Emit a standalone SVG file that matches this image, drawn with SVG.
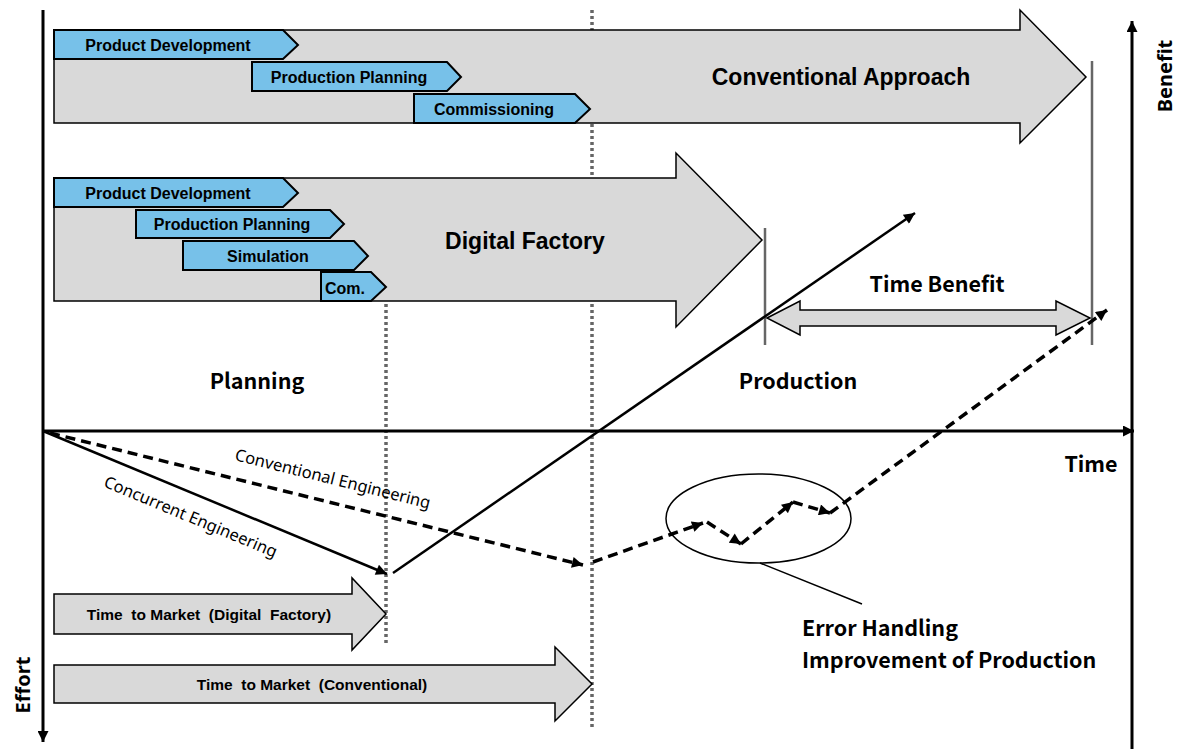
<svg xmlns="http://www.w3.org/2000/svg" width="1177" height="749" viewBox="0 0 1177 749">
  <defs>
    <marker id="head" viewBox="0 0 10 10" refX="10" refY="5" markerWidth="13" markerHeight="11" markerUnits="userSpaceOnUse" orient="auto">
      <path d="M0,0 L10,5 L0,10 Z" fill="#000"/>
    </marker>
    <marker id="axisHead" viewBox="0 0 10 10" refX="10" refY="5" markerWidth="12" markerHeight="11" markerUnits="userSpaceOnUse" orient="auto">
      <path d="M0,0 L10,5 L0,10 Z" fill="#000"/>
    </marker>
    <style>
      .gray { fill: #d9d9d9; stroke: #000; stroke-width: 1.5; stroke-linejoin: miter; }
      .blue { fill: #77c1e9; stroke: #000; stroke-width: 2; stroke-linejoin: miter; }
      .box { font-family: "Liberation Sans", Arial, sans-serif; font-weight: bold; font-size: 16px; fill: #000; text-anchor: middle; dominant-baseline: central; }
      .ttm { font-family: "Liberation Sans", Arial, sans-serif; font-weight: bold; font-size: 15.5px; fill: #000; text-anchor: middle; dominant-baseline: central; white-space: pre; }
      .big { font-family: "Liberation Sans", Arial, sans-serif; font-weight: bold; font-size: 23px; fill: #000; text-anchor: middle; dominant-baseline: central; }
      .lbl { font-family: "Noto Sans CJK KR", "Noto Sans", sans-serif; font-weight: bold; font-size: 21.5px; fill: #000; text-anchor: middle; dominant-baseline: central; }
      .side { font-family: "Noto Sans", "Open Sans", sans-serif; font-weight: bold; font-size: 20px; fill: #000; text-anchor: middle; dominant-baseline: central; }
      .slant { font-family: "Noto Sans", "Open Sans", sans-serif; font-size: 16.5px; fill: #000; text-anchor: middle; dominant-baseline: central; }
      .dots { stroke: #666; stroke-width: 3.5; stroke-dasharray: 3 3; fill: none; }
      .axis { stroke: #000; stroke-width: 3; fill: none; }
      .solid { stroke: #000; stroke-width: 2.5; fill: none; }
      .dash { stroke: #000; stroke-width: 3.5; stroke-dasharray: 10 6; fill: none; }
      .mark { stroke: #666; stroke-width: 2.5; fill: none; }
    </style>
  </defs>
  <rect width="1177" height="749" fill="#fff"/>

  <!-- phase boundaries -->
  <g id="boundaries">
    <line class="dots" x1="592" y1="10" x2="592" y2="728"/>
    <line class="dots" x1="386" y1="178" x2="386" y2="646"/>
  </g>

  <!-- conventional approach -->
  <g id="conventional-approach">
    <path class="gray" d="M54,30 H1020 V10 L1086,77 L1020,143 V123 H54 Z"/>
    <text class="big" x="841" y="77">Conventional Approach</text>
  </g>
  <g id="conv-product-development">
    <path class="blue" d="M54,30 H283 L298,45 L283,59 H54 Z"/>
    <text class="box" x="168" y="45">Product Development</text>
  </g>
  <g id="conv-production-planning">
    <path class="blue" d="M252,62 H447 L461,77 L447,91 H252 Z"/>
    <text class="box" x="349" y="77">Production Planning</text>
  </g>
  <g id="conv-commissioning">
    <path class="blue" d="M414,94 H575 L590,109 L575,123 H414 Z"/>
    <text class="box" x="494" y="109">Commissioning</text>
  </g>

  <!-- digital factory -->
  <g id="digital-factory">
    <path class="gray" d="M54,178 H676 V153 L762,240 L676,327 V301 H54 Z"/>
    <text class="big" x="525" y="241">Digital Factory</text>
  </g>
  <g id="df-product-development">
    <path class="blue" d="M54,178 H283 L298,193 L283,207 H54 Z"/>
    <text class="box" x="168" y="193">Product Development</text>
  </g>
  <g id="df-production-planning">
    <path class="blue" d="M136,210 H330 L344,224 L330,238 H136 Z"/>
    <text class="box" x="232" y="224">Production Planning</text>
  </g>
  <g id="df-simulation">
    <path class="blue" d="M183,241 H354 L368,256 L354,270 H183 Z"/>
    <text class="box" x="268" y="256">Simulation</text>
  </g>
  <g id="df-commissioning">
    <path class="blue" d="M321,272 H371 L386,287 L371,301 H321 Z"/>
    <text class="box" x="345" y="288">Com.</text>
  </g>

  <!-- production start markers and time benefit -->
  <g id="time-benefit">
    <line class="mark" x1="765" y1="228" x2="765" y2="345"/>
    <line class="mark" x1="1092" y1="61" x2="1092" y2="345"/>
    <path class="gray" d="M767,318 L800,301 V310 H1056 V301 L1090,318 L1056,335 V326 H800 V335 Z"/>
    <text class="lbl" x="937" y="282">Time Benefit</text>
  </g>

  <g id="phase-labels">
    <text class="lbl" x="257" y="379">Planning</text>
    <text class="lbl" x="798" y="379">Production</text>
  </g>

  <!-- time to market -->
  <g id="ttm-digital">
    <path class="gray" d="M54,594 H352 V578 L386,614 L352,650 V634 H54 Z"/>
    <text class="ttm" x="209" y="614">Time  to Market  (Digital  Factory)</text>
  </g>
  <g id="ttm-conventional">
    <path class="gray" d="M54,665 H555 V647 L592,684 L555,721 V703 H54 Z"/>
    <text class="ttm" x="312" y="684">Time  to Market  (Conventional)</text>
  </g>

  <!-- axes -->
  <g id="axes">
    <line class="axis" x1="43" y1="10" x2="43" y2="742" marker-end="url(#axisHead)"/>
    <line class="axis" x1="43" y1="431" x2="1134" y2="431" marker-end="url(#axisHead)"/>
    <line class="axis" x1="1132" y1="749" x2="1132" y2="21" marker-end="url(#axisHead)"/>
    <text class="lbl" x="1091" y="462">Time</text>
    <text class="side" transform="translate(1164,76) rotate(-90)">Benefit</text>
    <text class="side" transform="translate(22,685) rotate(-90)">Effort</text>
  </g>

  <!-- effort / benefit curves -->
  <g id="connectors">
    <line class="solid" x1="43" y1="431" x2="387" y2="574" marker-end="url(#head)"/>
    <line class="solid" x1="393" y1="573" x2="915" y2="213" marker-end="url(#head)"/>
    <line class="dash" x1="50" y1="433" x2="583" y2="565" marker-end="url(#head)"/>
    <line class="dash" x1="593" y1="562" x2="703" y2="523" marker-end="url(#head)"/>
    <line class="dash" x1="707" y1="522" x2="741" y2="544" marker-end="url(#head)"/>
    <line class="dash" x1="741" y1="544" x2="793" y2="502" marker-end="url(#head)"/>
    <line class="dash" x1="793" y1="502" x2="830" y2="513" marker-end="url(#head)"/>
    <line class="dash" x1="830" y1="513" x2="1107" y2="310" marker-end="url(#head)"/>
  </g>

  <g id="curve-labels">
    <text class="slant" transform="translate(333,478) rotate(14)">Conventional Engineering</text>
    <text class="slant" transform="translate(191,516) rotate(22.6)">Concurrent Engineering</text>
  </g>

  <!-- error handling callout -->
  <g id="error-handling">
    <ellipse cx="758.5" cy="518.5" rx="92.5" ry="44.5" fill="none" stroke="#000" stroke-width="1.5"/>
    <line x1="760" y1="563" x2="862" y2="604" stroke="#000" stroke-width="1.5"/>
    <text class="lbl" x="802" y="626" style="text-anchor:start">Error Handling</text>
    <text class="lbl" x="802" y="658" style="text-anchor:start">Improvement of Production</text>
  </g>
</svg>
